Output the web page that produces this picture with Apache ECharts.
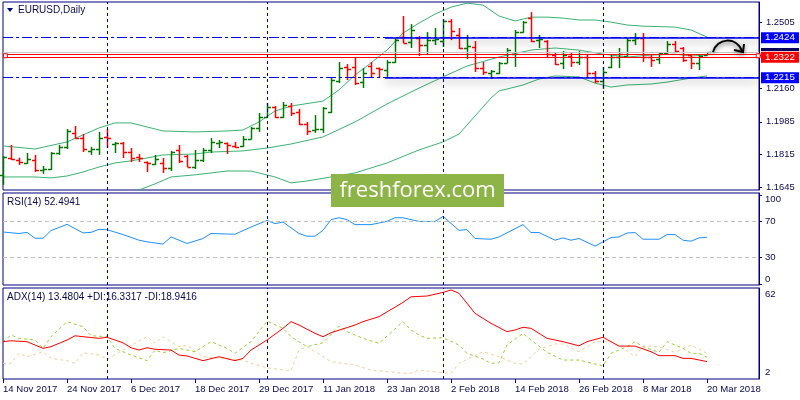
<!DOCTYPE html>
<html><head><meta charset="utf-8">
<script src="https://cdn.jsdelivr.net/npm/echarts@6/dist/echarts.min.js"></script>
<style>html,body{margin:0;padding:0;background:#fff}#c{width:800px;height:400px}</style>
</head><body><div id="c"></div>
<script>
const dates = [
'14 Nov 2017','15 Nov 2017','16 Nov 2017','17 Nov 2017','20 Nov 2017','21 Nov 2017','22 Nov 2017','23 Nov 2017','24 Nov 2017','27 Nov 2017','28 Nov 2017','29 Nov 2017','30 Nov 2017',
'1 Dec 2017','4 Dec 2017','5 Dec 2017','6 Dec 2017','7 Dec 2017','8 Dec 2017','11 Dec 2017','12 Dec 2017','13 Dec 2017','14 Dec 2017','15 Dec 2017','18 Dec 2017','19 Dec 2017','20 Dec 2017','21 Dec 2017','22 Dec 2017','26 Dec 2017','27 Dec 2017','28 Dec 2017','29 Dec 2017',
'2 Jan 2018','3 Jan 2018','4 Jan 2018','5 Jan 2018','8 Jan 2018','9 Jan 2018','10 Jan 2018','11 Jan 2018','12 Jan 2018','15 Jan 2018','16 Jan 2018','17 Jan 2018','18 Jan 2018','19 Jan 2018','22 Jan 2018','23 Jan 2018','24 Jan 2018','25 Jan 2018','26 Jan 2018','29 Jan 2018','30 Jan 2018','31 Jan 2018',
'1 Feb 2018','2 Feb 2018','5 Feb 2018','6 Feb 2018','7 Feb 2018','8 Feb 2018','9 Feb 2018','12 Feb 2018','13 Feb 2018','14 Feb 2018','15 Feb 2018','16 Feb 2018','19 Feb 2018','20 Feb 2018','21 Feb 2018','22 Feb 2018','23 Feb 2018','26 Feb 2018','27 Feb 2018','28 Feb 2018',
'1 Mar 2018','2 Mar 2018','5 Mar 2018','6 Mar 2018','7 Mar 2018','8 Mar 2018','9 Mar 2018','12 Mar 2018','13 Mar 2018','14 Mar 2018','15 Mar 2018','16 Mar 2018','19 Mar 2018','20 Mar 2018','21 Mar 2018','22 Mar 2018','23 Mar 2018','26 Mar 2018','27 Mar 2018','28 Mar 2018'];

const openP  = [1.1708,1.1796,1.1786,1.1770,1.1786,1.1734,1.1739,1.1822,1.1854,1.1927,1.1900,1.1833,1.1843,1.1905,1.1869,1.1874,1.1827,1.1801,1.1775,1.1765,1.1770,1.1744,1.1838,1.1807,1.1749,1.1786,1.1838,1.1874,1.1874,1.1859,1.1859,1.1895,1.1953,1.2010,1.2062,1.2010,1.2067,1.2036,1.1973,1.1942,1.1947,1.2036,1.2198,1.2271,1.2271,1.2192,1.2276,1.2265,1.2255,1.2297,1.2427,1.2401,1.2422,1.2385,1.2411,1.2406,1.2511,1.2438,1.2370,1.2375,1.2265,1.2239,1.2239,1.2292,1.2338,1.2453,1.2526,1.2411,1.2406,1.2333,1.2292,1.2328,1.2297,1.2323,1.2239,1.2198,1.2271,1.2323,1.2328,1.2411,1.2422,1.2323,1.2312,1.2344,1.2391,1.2370,1.2333,1.2292,1.2333];
const highP  = [1.1807,1.1864,1.1798,1.1822,1.1812,1.1754,1.1827,1.1864,1.1947,1.1963,1.1921,1.1854,1.1932,1.1947,1.1880,1.1880,1.1848,1.1817,1.1778,1.1812,1.1796,1.1833,1.1864,1.1812,1.1838,1.1848,1.1900,1.1890,1.1877,1.1880,1.1911,1.1958,1.2031,1.2083,1.2067,1.2088,1.2083,1.2052,1.1984,1.2020,1.2062,1.2219,1.2297,1.2286,1.2323,1.2265,1.2297,1.2268,1.2307,1.2422,1.2537,1.2495,1.2432,1.2453,1.2474,1.2521,1.2521,1.2474,1.2438,1.2406,1.2297,1.2255,1.2297,1.2370,1.2464,1.2511,1.2557,1.2438,1.2411,1.2344,1.2354,1.2344,1.2354,1.2338,1.2250,1.2271,1.2338,1.2370,1.2422,1.2448,1.2448,1.2333,1.2349,1.2406,1.2406,1.2375,1.2338,1.2333,1.2349];
const lowP   = [1.1656,1.1786,1.1760,1.1765,1.1723,1.1713,1.1734,1.1812,1.1843,1.1895,1.1827,1.1812,1.1812,1.1848,1.1822,1.1796,1.1775,1.1775,1.1723,1.1760,1.1718,1.1728,1.1770,1.1749,1.1739,1.1775,1.1822,1.1848,1.1817,1.1848,1.1854,1.1893,1.1932,1.2008,1.2005,1.2005,1.2015,1.1968,1.1916,1.1927,1.1927,1.2031,1.2187,1.2203,1.2177,1.2161,1.2213,1.2213,1.2219,1.2292,1.2396,1.2370,1.2328,1.2333,1.2385,1.2375,1.2411,1.2365,1.2312,1.2245,1.2229,1.2208,1.2234,1.2290,1.2271,1.2450,1.2401,1.2370,1.2323,1.2281,1.2260,1.2271,1.2281,1.2219,1.2187,1.2156,1.2265,1.2265,1.2326,1.2385,1.2297,1.2271,1.2286,1.2338,1.2349,1.2297,1.2260,1.2255,1.2331];
const closeP = [1.1801,1.1791,1.1775,1.1791,1.1734,1.1739,1.1822,1.1854,1.1937,1.1900,1.1843,1.1843,1.1900,1.1900,1.1874,1.1827,1.1796,1.1796,1.1770,1.1791,1.1744,1.1827,1.1781,1.1749,1.1786,1.1838,1.1880,1.1877,1.1864,1.1854,1.1895,1.1953,1.2010,1.2062,1.2010,1.2073,1.2031,1.1973,1.1937,1.1947,1.2057,1.2203,1.2265,1.2260,1.2187,1.2239,1.2239,1.2260,1.2297,1.2411,1.2396,1.2464,1.2385,1.2411,1.2417,1.2511,1.2458,1.2370,1.2380,1.2265,1.2245,1.2250,1.2292,1.2359,1.2453,1.2505,1.2406,1.2417,1.2338,1.2286,1.2333,1.2297,1.2323,1.2239,1.2198,1.2245,1.2323,1.2338,1.2411,1.2422,1.2323,1.2307,1.2344,1.2391,1.2354,1.2307,1.2292,1.2328,1.2347];

const bbUpper  = [[0,1.1859],[4,1.1843],[8,1.1880],[12,1.1953],[14,1.1979],[16,1.1979],[20,1.1937],[24,1.1932],[28,1.1937],[30,1.1942],[32,1.1984],[34,1.2041],[36,1.2067],[40,1.2093],[42,1.2151],[44,1.2229],[46,1.2292],[48,1.2359],[50,1.2448],[52,1.2500],[54,1.2547],[56,1.2583],[58,1.2604],[60,1.2594],[62,1.2537],[64,1.2511],[66,1.2531],[68,1.2531],[70,1.2526],[72,1.2516],[74,1.2516],[76,1.2505],[78,1.2490],[80,1.2484],[84,1.2479],[86,1.2464],[88,1.2427]];
const bbMiddle = [[0,1.1697],[4,1.1697],[6,1.1692],[8,1.1702],[10,1.1723],[12,1.1749],[14,1.1770],[16,1.1781],[18,1.1796],[20,1.1812],[24,1.1817],[26,1.1827],[30,1.1833],[33,1.1848],[36,1.1869],[40,1.1906],[44,1.1984],[48,1.2078],[52,1.2161],[55,1.2219],[58,1.2276],[62,1.2323],[66,1.2359],[69,1.2370],[72,1.2359],[75,1.2338],[78,1.2323],[81,1.2333],[84,1.2338],[86,1.2328],[88,1.2333]];
const bbLower  = [[0,1.1536],[8,1.1525],[14,1.1577],[17,1.1629],[19,1.1661],[21,1.1697],[24,1.1708],[28,1.1728],[31,1.1728],[34,1.1697],[36,1.1666],[38,1.1676],[41,1.1697],[44,1.1718],[48,1.1770],[52,1.1838],[55,1.1880],[57,1.1921],[59,1.2015],[61,1.2109],[62,1.2146],[63,1.2156],[65,1.2177],[67,1.2208],[69,1.2224],[72,1.2219],[74,1.2187],[76,1.2166],[78,1.2177],[81,1.2182],[83,1.2192],[86,1.2213],[88,1.2224]];

const rsi = [[0,58.4],[2,56.7],[3,58],[4,51.4],[5,51.4],[6,60],[8,67],[10,57.4],[11,58],[12,61.4],[13,61],[15,55.5],[17,49.2],[18,47.4],[20,44.8],[21,52.9],[23,45.5],[25,51.1],[26,56.7],[29,55.9],[31,64],[33,71.4],[34,67.8],[35,69.6],[37,56.7],[38,53.7],[39,53.7],[40,60.3],[41,72.2],[42,74.4],[43,72.2],[44,66.7],[46,66.7],[47,68.5],[48,70.5],[49,74.4],[50,74.4],[52,70.3],[54,70.3],[55,75.9],[57,60.3],[58,61.1],[59,51.1],[61,50.3],[62,52.9],[65,66.7],[66,57.8],[67,57.8],[69,49.2],[70,51.8],[71,49.2],[72,51.1],[74,42.6],[75,47.3],[76,52.2],[77,52.9],[78,57.3],[79,57.8],[80,50.3],[82,50.3],[83,55.5],[84,55.5],[85,49.2],[86,48.1],[87,51.8],[88,52.49]];
const adx = [[0,26.6],[1,27.2],[3,26.6],[5,22.2],[6,23.3],[8,27.7],[9,30.5],[10,29.9],[12,28.8],[13,29.5],[15,25.9],[16,22.6],[17,21.1],[18,22.6],[19,21.6],[21,21.1],[22,17.8],[23,17.2],[25,14.1],[27,16.7],[29,14.1],[30,15.6],[31,21.1],[33,27.7],[35,35.4],[36,39.8],[37,37.6],[39,32.1],[40,29.9],[41,32.5],[44,37.6],[45,39.8],[47,43.1],[50,52.5],[51,56.2],[53,56.7],[55,59.1],[56,60.7],[57,58.5],[59,45.3],[61,38.7],[63,33.2],[64,34.3],[65,36.1],[66,35.4],[68,28.8],[70,26.6],[72,23.9],[73,26.6],[75,29.5],[77,23.7],[79,23.7],[81,20.0],[82,17.4],[84,17.4],[85,15.6],[86,15.6],[88,13.48]];
const plusDI = [[0,26.6],[1,31.0],[2,28.8],[4,27.7],[5,22.2],[6,29.9],[8,39.8],[10,36.5],[11,30.5],[13,29.9],[14,22.2],[16,17.8],[18,14.1],[19,21.1],[20,19.3],[22,22.2],[24,20.0],[26,26.6],[28,22.2],[29,18.9],[31,26.6],[33,40.2],[35,35.4],[36,29.9],[38,23.3],[40,25.9],[42,36.9],[43,33.2],[45,28.8],[47,25.5],[50,39.8],[51,34.3],[52,31.0],[53,28.8],[55,29.2],[57,24.4],[58,18.9],[60,15.2],[61,12.3],[62,12.7],[63,24.4],[65,32.1],[66,27.7],[68,19.6],[70,14.5],[72,14.5],[75,10.6],[76,18.9],[78,23.3],[79,26.6],[80,23.3],[82,19.6],[83,26.6],[85,22.2],[86,18.9],[87,18.9],[88,16.33]];
const minusDI = [[0,12.3],[1,12.3],[2,18.9],[3,16.7],[5,20.0],[6,15.6],[8,14.1],[9,12.3],[10,19.3],[12,17.8],[13,15.0],[15,21.1],[18,29.9],[19,25.5],[20,29.9],[22,23.3],[23,24.4],[25,16.7],[27,15.6],[30,14.5],[31,12.3],[33,9.4],[36,7.3],[37,21.1],[38,23.3],[40,16.7],[41,13.4],[44,11.2],[46,7.9],[50,5.8],[51,5.8],[52,7.9],[55,6.2],[56,5.8],[57,12.3],[60,20.0],[62,16.7],[64,12.3],[65,11.9],[67,21.6],[69,25.1],[70,25.1],[72,20.0],[74,26.6],[76,26.6],[78,20.6],[79,16.7],[80,23.7],[82,23.3],[84,19.6],[86,24.4],[88,18.94]];

const priceTicks = [1.1645,1.1815,1.1985,1.2160,1.2330,1.2505];
const rsiTicks = [0,30,70,100];
const rsiLevels = [70,30];
const adxTicks = [2,62];
const resistance = 1.2424, support = 1.2215, redLevel = 1.2322, redLevel2 = 1.2337, bidLevel = 1.2347;
const monthStarts = [13,33,55,75];
const dateTicks = [0,8,16,24,32,40,48,56,64,72,80,88];
const lastRsi = '52.4941', adxTxt = 'ADX(14) 13.4804 +DI:16.3317 -DI:18.9416';

const NAVY = '#000080', TXT = '#0a0a50', UP = '#007800', DOWN = '#ff0000', BB = '#3cb371';
const FONT = 'Liberation Sans';
const X_MAX = 94.5;

const ohlc = openP.map((o, i) => [i, o, highP[i], lowP[i], closeP[i]]);

function renderBar(params, api) {
  const i = api.value(0), o = api.value(1), h = api.value(2), l = api.value(3), c = api.value(4);
  const ph = api.coord([i, h]), pl = api.coord([i, l]), po = api.coord([i, o]), pc = api.coord([i, c]);
  const x = Math.round(ph[0]) + 0.5;
  const col = c >= o ? UP : DOWN;
  const st = {stroke: col, lineWidth: 1.5};
  const yo = Math.round(po[1]) + 0.5, yc = Math.round(pc[1]) + 0.5;
  return {type: 'group', children: [
    {type: 'line', shape: {x1: x, y1: ph[1], x2: x, y2: pl[1]}, style: st},
    {type: 'line', shape: {x1: x - 3.5, y1: yo, x2: x, y2: yo}, style: st},
    {type: 'line', shape: {x1: x, y1: yc, x2: x + 3.5, y2: yc}, style: st}
  ]};
}

const vLines = monthStarts.map(m => ({xAxis: m}));
const vStyle = {color: NAVY, type: [3, 3], width: 1};
const boxLabel = (bg, v) => ({show: true, position: 'end', distance: 2, backgroundColor: bg, color: '#fff',
  padding: [1, 4, 0, 4], fontFamily: FONT, fontSize: 9.8, formatter: v.toFixed(4)});

const grids = [
  {left: 3, top: 2, width: 756, height: 188},
  {left: 3, top: 193, width: 756, height: 92},
  {left: 3, top: 288, width: 756, height: 91}
].map(g => Object.assign(g, {show: true, borderColor: NAVY, borderWidth: 1, backgroundColor: '#fff', containLabel: false}));

const xAxes = [0, 1, 2].map(k => ({
  type: 'value', gridIndex: k, min: 0, max: X_MAX, interval: 8,
  splitLine: {show: false}, axisLine: {show: false, onZero: false},
  axisTick: k === 2 ? {show: true, length: 4, customValues: dateTicks, lineStyle: {color: NAVY}} : {show: false},
  axisLabel: k === 2 ? {show: true, customValues: dateTicks, align: 'left', margin: 5, color: TXT,
    fontFamily: FONT, fontSize: 9.6, formatter: v => dates[v] || ''} : {show: false}
}));

const yCommon = {position: 'right', splitLine: {show: false}, axisLine: {show: true, onZero: false, lineStyle: {color: NAVY}}};
const yAxes = [
  Object.assign({}, yCommon, {type: 'value', gridIndex: 0, min: 1.1629, max: 1.2610,
    axisTick: {show: true, length: 3, customValues: priceTicks, lineStyle: {color: NAVY}},
    axisLabel: {customValues: priceTicks, margin: 7, color: TXT, fontFamily: FONT, fontSize: 9.4, formatter: v => v.toFixed(4)}}),
  Object.assign({}, yCommon, {type: 'value', gridIndex: 1, min: -1.1, max: 102.2,
    axisTick: {show: true, length: 3, customValues: rsiTicks, lineStyle: {color: NAVY}},
    axisLabel: {customValues: rsiTicks, margin: 6, color: TXT, fontFamily: FONT, fontSize: 9.6,
      formatter: v => v === 100 ? '{t|100}' : (v === 0 ? '{b|0}' : String(v)),
      rich: {t: {padding: [9, 0, 0, 0], color: TXT, fontFamily: FONT, fontSize: 9.6},
             b: {padding: [0, 0, 10, 0], color: TXT, fontFamily: FONT, fontSize: 9.6}}}}),
  Object.assign({}, yCommon, {type: 'value', gridIndex: 2, min: 2, max: 62,
    axisTick: {show: false},
    axisLabel: {customValues: adxTicks, margin: 6, color: TXT, fontFamily: FONT, fontSize: 9.6,
      formatter: v => v === 62 ? '{t|62}' : '{b|2}',
      rich: {t: {padding: [12, 0, 0, 0], color: TXT, fontFamily: FONT, fontSize: 9.6},
             b: {padding: [0, 0, 14, 0], color: TXT, fontFamily: FONT, fontSize: 9.6}}}})
];

const hl = (v, style, label) => [{coord: [0, v], lineStyle: style, label: label || {show: false}}, {coord: [X_MAX, v]}];
const dashDot = {color: '#0000e0', type: [10, 3, 3, 3], width: 1.2};
const solidBlue = {color: '#0000ff', type: 'solid', width: 1.5, shadowColor: 'rgba(0,0,0,0.55)', shadowBlur: 10, shadowOffsetY: 3};

const series = [
  {type: 'line', name: 'BB upper', xAxisIndex: 0, yAxisIndex: 0, data: bbUpper, symbol: 'none', lineStyle: {color: BB, width: 1}, z: 2},
  {type: 'line', name: 'BB middle', xAxisIndex: 0, yAxisIndex: 0, data: bbMiddle, symbol: 'none', lineStyle: {color: BB, width: 1}, z: 2},
  {type: 'line', name: 'BB lower', xAxisIndex: 0, yAxisIndex: 0, data: bbLower, symbol: 'none', lineStyle: {color: BB, width: 1}, z: 2},
  {type: 'custom', name: 'EURUSD', xAxisIndex: 0, yAxisIndex: 0, data: ohlc, renderItem: renderBar,
    encode: {x: 0, y: [1, 2, 3, 4]}, z: 3,
    markLine: {silent: true, symbol: 'none', animation: false, z: 4,
      data: [
        hl(resistance, dashDot), hl(support, dashDot),
        hl(bidLevel, {color: '#c8c8c8', type: 'solid', width: 1}),
        hl(redLevel2, {color: '#ff0000', type: 'solid', width: 1}),
        hl(redLevel, {color: '#ff0000', type: 'solid', width: 1}, boxLabel('#ff0000', redLevel)),
        [{coord: [47.75, resistance], lineStyle: solidBlue, label: boxLabel('#0000ff', resistance)}, {coord: [X_MAX, resistance]}],
        [{coord: [47.75, support], lineStyle: solidBlue, label: boxLabel('#0000ff', support)}, {coord: [X_MAX, support]}]
      ].concat(vLines.map(v => Object.assign({lineStyle: vStyle, label: {show: false}}, v)))},
    markPoint: {silent: true, animation: false, label: {show: false},
      data: [{coord: [0.3, (redLevel + redLevel2) / 2]}, {coord: [94.4, (redLevel + redLevel2) / 2]}],
      symbol: 'rect', symbolSize: [4, 4], itemStyle: {color: '#fff', borderColor: '#ff0000', borderWidth: 1}}},
  {type: 'line', name: 'RSI(14)', xAxisIndex: 1, yAxisIndex: 1, data: rsi, symbol: 'none', lineStyle: {color: '#1e90ff', width: 1},
    markLine: {silent: true, symbol: 'none', animation: false, label: {show: false},
      data: rsiLevels.map(v => ({yAxis: v, lineStyle: {color: '#c0c0c0', type: [4, 3], width: 1}}))
        .concat(vLines.map(v => Object.assign({lineStyle: vStyle}, v)))}},
  {type: 'line', name: '-DI', xAxisIndex: 2, yAxisIndex: 2, data: minusDI, symbol: 'none', lineStyle: {color: '#f0cf9a', width: 1, type: [3, 3]}},
  {type: 'line', name: '+DI', xAxisIndex: 2, yAxisIndex: 2, data: plusDI, symbol: 'none', lineStyle: {color: '#9acd32', width: 1, type: [3, 3]}},
  {type: 'line', name: 'ADX(14)', xAxisIndex: 2, yAxisIndex: 2, data: adx, symbol: 'none', lineStyle: {color: '#ff0000', width: 1},
    markLine: {silent: true, symbol: 'none', animation: false, label: {show: false},
      data: vLines.map(v => Object.assign({lineStyle: vStyle}, v))}}
];

const txtFont = '10px "' + FONT + '"';
const graphic = [
  {type: 'polygon', shape: {points: [[7, 8], [13, 8], [10, 12]]}, style: {fill: NAVY}, z: 10},
  {type: 'text', x: 18, y: 10, style: {text: 'EURUSD,Daily', font: txtFont, fill: TXT, verticalAlign: 'middle'}, z: 10},
  {type: 'text', x: 7, y: 202, style: {text: 'RSI(14) ' + lastRsi, font: txtFont, fill: TXT, verticalAlign: 'middle'}, z: 10},
  {type: 'text', x: 7, y: 297, style: {text: adxTxt, font: txtFont, fill: TXT, verticalAlign: 'middle'}, z: 10},
  {type: 'rect', shape: {x: 761, y: 48, width: 38, height: 3}, style: {fill: '#000060'}, z: 5},
  {type: 'bezierCurve', shape: {x1: 713, y1: 52, cpx1: 717, cpy1: 38, cpx2: 736, cpy2: 36, x2: 742, y2: 51},
    style: {stroke: '#000', lineWidth: 2, fill: null, shadowColor: 'rgba(0,0,0,0.5)', shadowBlur: 4, shadowOffsetY: 2}, z: 20},
  {type: 'polyline', shape: {points: [[734, 50], [743, 52], [744, 44]]},
    style: {stroke: '#000', lineWidth: 2, fill: null, shadowColor: 'rgba(0,0,0,0.5)', shadowBlur: 4, shadowOffsetY: 2}, z: 20},
  {type: 'rect', shape: {x: 331, y: 174, width: 173, height: 33}, style: {fill: '#8db446'}, z: 50},
  {type: 'text', x: 417.5, y: 191, style: {text: 'freshforex.com', font: '22px "Open Sans"', fill: '#fff', align: 'center', verticalAlign: 'middle'}, z: 51}
];

const chart = echarts.init(document.getElementById('c'), null, {renderer: 'canvas'});
chart.setOption({animation: false, backgroundColor: '#fff', grid: grids, xAxis: xAxes, yAxis: yAxes, series: series, graphic: graphic});
</script>
</body></html>
